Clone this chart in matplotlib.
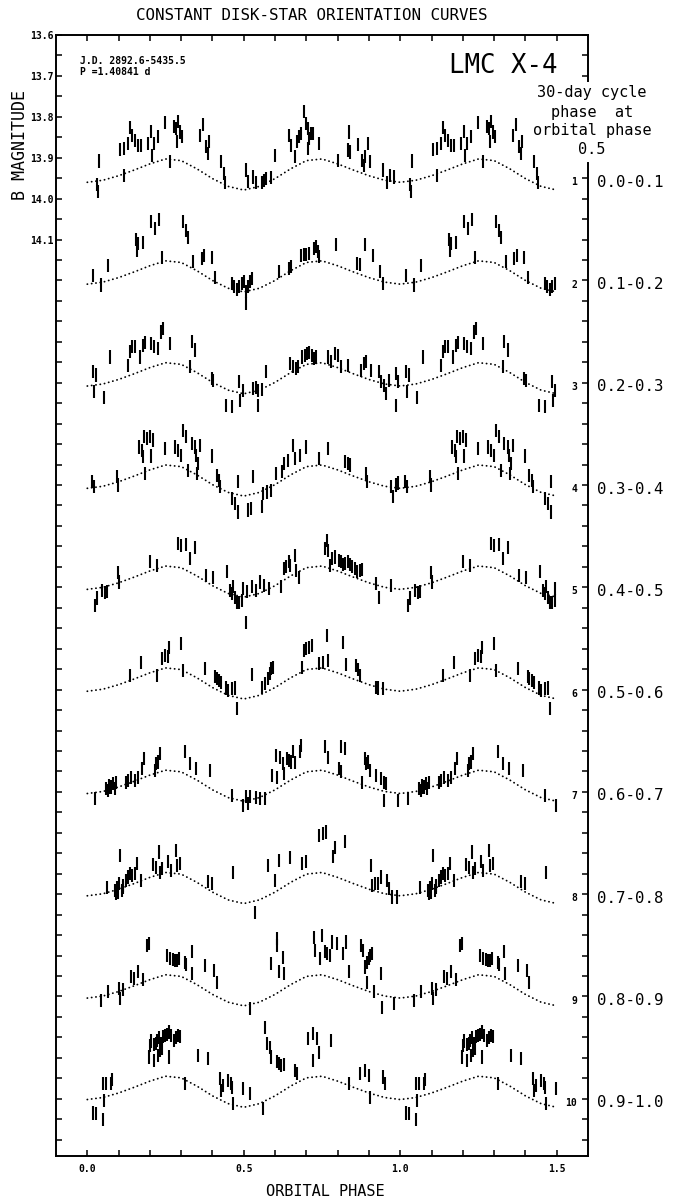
import matplotlib
matplotlib.use("Agg")
import matplotlib.pyplot as plt

# ---------------- text ----------------
title = "CONSTANT DISK-STAR ORIENTATION CURVES"
x_label = "ORBITAL PHASE"
y_label = "B MAGNITUDE"
jd_text = ["J.D. 2892.6-5435.5", "P =1.40841 d"]
object_name = "LMC X-4"
header_lines = ["30-day cycle", "phase  at", "orbital phase", "0.5"]
panel_numbers = ["1", "2", "3", "4", "5", "6", "7", "8", "9", "10"]
cycle_ranges = ["0.0-0.1", "0.1-0.2", "0.2-0.3", "0.3-0.4", "0.4-0.5",
                "0.5-0.6", "0.6-0.7", "0.7-0.8", "0.8-0.9", "0.9-1.0"]

# ---------------- axes values ----------------
x_ticks = [0.0, 0.1, 0.2, 0.3, 0.4, 0.5, 0.6, 0.7, 0.8, 0.9, 1.0, 1.1, 1.2, 1.3, 1.4, 1.5]
x_labeled = [0.0, 0.5, 1.0, 1.5]
y_labeled = [13.6, 13.7, 13.8, 13.9, 14.0, 14.1]
y_tick_step = 0.05
panel_offset = 0.25          # each panel shifted down by 0.25 mag
label_level = 13.96          # level of panel labels (true mag)
err_mag = 0.016

# model curve (dotted): phase grid and shape relative to phase 0
curve_phase = [0.00, 0.05, 0.10, 0.15, 0.20, 0.25, 0.30, 0.35, 0.40, 0.45, 0.50,
               0.55, 0.60, 0.65, 0.70, 0.75, 0.80, 0.85, 0.90, 0.95, 1.00]
curve_shape = [0.000, -0.005, -0.016, -0.030, -0.045, -0.057, -0.053, -0.033, -0.009, 0.010, 0.019,
               0.010, -0.009, -0.033, -0.053, -0.057, -0.045, -0.030, -0.016, -0.005, 0.000]
curve_level = [13.960, 13.959, 13.958, 13.958, 13.955, 13.954, 13.954, 13.954, 13.954, 13.952]

# ---------------- observations (phase, B mag) per 30-day phase bin ----------------
p1 = [(0.030, 13.965), (0.035, 13.983), (0.037, 13.908), (0.118, 13.943), (0.106, 13.880),
      (0.118, 13.877), (0.129, 13.865), (0.136, 13.826), (0.144, 13.845), (0.154, 13.857),
      (0.162, 13.869), (0.171, 13.871), (0.195, 13.865), (0.203, 13.835), (0.208, 13.894),
      (0.213, 13.865), (0.226, 13.849), (0.247, 13.814), (0.265, 13.910), (0.276, 13.824),
      (0.284, 13.829), (0.286, 13.861), (0.290, 13.812), (0.295, 13.837), (0.303, 13.849),
      (0.361, 13.845), (0.369, 13.819), (0.380, 13.873), (0.385, 13.890), (0.388, 13.861),
      (0.428, 13.910), (0.436, 13.939), (0.441, 13.961), (0.508, 13.930), (0.512, 13.959),
      (0.531, 13.947), (0.538, 13.961), (0.557, 13.961), (0.564, 13.955), (0.570, 13.951),
      (0.588, 13.949), (0.601, 13.895), (0.645, 13.845), (0.650, 13.869), (0.665, 13.898),
      (0.670, 13.861), (0.676, 13.849), (0.683, 13.841), (0.691, 13.788), (0.700, 13.816),
      (0.705, 13.829), (0.710, 13.853), (0.716, 13.841), (0.721, 13.841), (0.706, 13.877),
      (0.739, 13.865), (0.801, 13.906), (0.836, 13.837), (0.832, 13.881), (0.840, 13.886),
      (0.865, 13.868), (0.879, 13.906), (0.883, 13.918), (0.889, 13.898), (0.897, 13.865),
      (0.904, 13.910), (0.944, 13.930), (0.957, 13.961), (0.967, 13.943), (0.979, 13.947)]

p2 = [(0.017, 13.937), (0.045, 13.961), (0.066, 13.914), (0.155, 13.849), (0.162, 13.859),
      (0.159, 13.876), (0.177, 13.857), (0.205, 13.806), (0.216, 13.823), (0.230, 13.800),
      (0.240, 13.894), (0.306, 13.805), (0.315, 13.827), (0.322, 13.845), (0.338, 13.904),
      (0.365, 13.896), (0.373, 13.890), (0.397, 13.893), (0.407, 13.943), (0.461, 13.957),
      (0.468, 13.965), (0.477, 13.973), (0.485, 13.965), (0.493, 13.957), (0.500, 13.953),
      (0.506, 13.978), (0.508, 14.006), (0.514, 13.965), (0.521, 13.953), (0.527, 13.945),
      (0.613, 13.927), (0.645, 13.920), (0.652, 13.916), (0.684, 13.888), (0.691, 13.886),
      (0.700, 13.886), (0.708, 13.884), (0.724, 13.872), (0.731, 13.867), (0.737, 13.880),
      (0.742, 13.892), (0.796, 13.862), (0.862, 13.908), (0.872, 13.911), (0.889, 13.862),
      (0.912, 13.888), (0.934, 13.929), (0.945, 13.957)]

p3 = [(0.017, 13.923), (0.028, 13.931), (0.021, 13.972), (0.053, 13.985), (0.074, 13.887),
      (0.131, 13.907), (0.136, 13.874), (0.144, 13.862), (0.152, 13.861), (0.168, 13.887),
      (0.179, 13.858), (0.184, 13.852), (0.205, 13.854), (0.213, 13.861), (0.226, 13.866),
      (0.237, 13.826), (0.242, 13.817), (0.265, 13.854), (0.333, 13.850), (0.343, 13.870),
      (0.327, 13.911), (0.397, 13.940), (0.402, 13.944), (0.444, 14.005), (0.461, 14.007),
      (0.485, 13.948), (0.489, 13.993), (0.496, 13.968), (0.529, 13.964), (0.538, 13.962),
      (0.545, 13.968), (0.557, 13.967), (0.545, 14.005), (0.570, 13.923), (0.647, 13.903),
      (0.656, 13.911), (0.666, 13.915), (0.673, 13.911), (0.687, 13.887), (0.695, 13.883),
      (0.703, 13.879), (0.710, 13.877), (0.719, 13.883), (0.726, 13.891), (0.731, 13.887),
      (0.769, 13.887), (0.780, 13.899), (0.790, 13.879), (0.801, 13.883), (0.811, 13.911),
      (0.832, 13.907), (0.875, 13.919), (0.883, 13.903), (0.891, 13.899), (0.907, 13.921),
      (0.931, 13.923), (0.939, 13.948), (0.947, 13.956), (0.955, 13.976), (0.964, 13.944),
      (0.985, 13.927), (0.987, 14.005), (0.992, 13.948)]

p4 = [(0.014, 13.942), (0.021, 13.954), (0.096, 13.930), (0.099, 13.950), (0.165, 13.857),
      (0.174, 13.865), (0.181, 13.832), (0.190, 13.836), (0.200, 13.831), (0.211, 13.840),
      (0.179, 13.881), (0.205, 13.879), (0.184, 13.922), (0.247, 13.861), (0.280, 13.857),
      (0.291, 13.865), (0.301, 13.877), (0.306, 13.817), (0.315, 13.832), (0.333, 13.848),
      (0.343, 13.857), (0.348, 13.877), (0.354, 13.897), (0.361, 13.853), (0.322, 13.914),
      (0.351, 13.922), (0.400, 13.879), (0.413, 13.926), (0.421, 13.938), (0.423, 13.954),
      (0.461, 13.983), (0.472, 13.995), (0.482, 14.016), (0.482, 13.942), (0.514, 14.011),
      (0.524, 14.007), (0.529, 13.930), (0.557, 14.003), (0.562, 13.971), (0.573, 13.967),
      (0.588, 13.963), (0.604, 13.922), (0.623, 13.918), (0.630, 13.897), (0.642, 13.889),
      (0.663, 13.885), (0.679, 13.877), (0.656, 13.853), (0.700, 13.857), (0.740, 13.885),
      (0.769, 13.861), (0.825, 13.893), (0.832, 13.897), (0.838, 13.901), (0.891, 13.922),
      (0.893, 13.942), (0.971, 13.954), (0.977, 13.979), (0.985, 13.950), (0.992, 13.945)]

p5 = [(0.025, 13.994), (0.030, 13.976), (0.046, 13.957), (0.056, 13.963), (0.063, 13.961),
      (0.099, 13.913), (0.102, 13.937), (0.200, 13.888), (0.223, 13.896), (0.291, 13.843),
      (0.301, 13.847), (0.315, 13.846), (0.327, 13.880), (0.343, 13.853), (0.379, 13.922),
      (0.402, 13.927), (0.446, 13.911), (0.456, 13.957), (0.461, 13.966), (0.466, 13.949),
      (0.472, 13.974), (0.477, 13.988), (0.485, 13.986), (0.493, 13.982), (0.496, 13.953),
      (0.506, 14.035), (0.510, 13.960), (0.527, 13.949), (0.538, 13.957), (0.551, 13.937),
      (0.564, 13.945), (0.581, 13.952), (0.620, 13.949), (0.627, 13.904), (0.635, 13.900),
      (0.645, 13.888), (0.649, 13.896), (0.663, 13.872), (0.666, 13.908), (0.677, 13.925),
      (0.759, 13.856), (0.766, 13.835), (0.769, 13.860), (0.777, 13.896), (0.783, 13.880),
      (0.793, 13.876), (0.804, 13.884), (0.811, 13.888), (0.817, 13.895), (0.825, 13.892),
      (0.832, 13.888), (0.841, 13.895), (0.847, 13.900), (0.854, 13.904), (0.862, 13.911),
      (0.870, 13.908), (0.879, 13.906), (0.923, 13.941), (0.931, 13.974), (0.971, 13.945)]

p6 = [(0.136, 13.915), (0.171, 13.884), (0.223, 13.915), (0.240, 13.874), (0.247, 13.866),
      (0.259, 13.870), (0.262, 13.846), (0.301, 13.838), (0.306, 13.903), (0.376, 13.899),
      (0.407, 13.919), (0.413, 13.923), (0.421, 13.927), (0.428, 13.932), (0.444, 13.946),
      (0.450, 13.952), (0.461, 13.948), (0.472, 13.946), (0.477, 13.997), (0.527, 13.914),
      (0.557, 13.944), (0.567, 13.936), (0.578, 13.923), (0.583, 13.911), (0.588, 13.899),
      (0.594, 13.895), (0.687, 13.897), (0.691, 13.854), (0.700, 13.850), (0.708, 13.846),
      (0.719, 13.842), (0.742, 13.887), (0.752, 13.883), (0.766, 13.817), (0.769, 13.879),
      (0.817, 13.834), (0.827, 13.889), (0.858, 13.891), (0.865, 13.901), (0.870, 13.915),
      (0.923, 13.944), (0.928, 13.946), (0.946, 13.948)]

p7 = [(0.025, 13.967), (0.061, 13.942), (0.066, 13.946), (0.070, 13.934), (0.074, 13.938),
      (0.077, 13.938), (0.083, 13.930), (0.087, 13.942), (0.092, 13.926), (0.123, 13.926),
      (0.131, 13.922), (0.141, 13.914), (0.152, 13.922), (0.162, 13.914), (0.174, 13.893),
      (0.182, 13.869), (0.216, 13.897), (0.221, 13.881), (0.226, 13.877), (0.232, 13.857),
      (0.312, 13.852), (0.327, 13.881), (0.346, 13.893), (0.392, 13.897), (0.464, 13.958),
      (0.498, 13.983), (0.508, 13.961), (0.514, 13.979), (0.521, 13.962), (0.540, 13.964),
      (0.551, 13.967), (0.567, 13.967), (0.591, 13.909), (0.604, 13.861), (0.606, 13.914),
      (0.615, 13.865), (0.625, 13.881), (0.627, 13.904), (0.637, 13.869), (0.645, 13.873),
      (0.652, 13.877), (0.658, 13.852), (0.663, 13.879), (0.679, 13.852), (0.684, 13.836),
      (0.759, 13.839), (0.769, 13.865), (0.804, 13.893), (0.811, 13.901), (0.812, 13.840),
      (0.822, 13.844), (0.879, 13.926), (0.886, 13.869), (0.891, 13.881), (0.898, 13.877),
      (0.902, 13.897), (0.921, 13.909), (0.940, 13.918), (0.947, 13.926), (0.955, 13.930),
      (0.947, 13.971), (0.992, 13.971)]

p8 = [(0.063, 13.933), (0.089, 13.941), (0.092, 13.949), (0.096, 13.933), (0.099, 13.945),
      (0.102, 13.924), (0.106, 13.855), (0.110, 13.941), (0.113, 13.933), (0.115, 13.928),
      (0.123, 13.916), (0.131, 13.908), (0.136, 13.900), (0.144, 13.904), (0.152, 13.900),
      (0.160, 13.875), (0.171, 13.916), (0.211, 13.877), (0.219, 13.884), (0.230, 13.847),
      (0.232, 13.896), (0.240, 13.888), (0.259, 13.871), (0.266, 13.892), (0.285, 13.844),
      (0.287, 13.880), (0.296, 13.874), (0.386, 13.918), (0.400, 13.924), (0.466, 13.896),
      (0.535, 13.994), (0.578, 13.880), (0.599, 13.916), (0.613, 13.867), (0.649, 13.861),
      (0.687, 13.875), (0.700, 13.871), (0.742, 13.806), (0.752, 13.802), (0.763, 13.798),
      (0.785, 13.859), (0.793, 13.835), (0.822, 13.822), (0.907, 13.880), (0.910, 13.928),
      (0.918, 13.923), (0.928, 13.924), (0.939, 13.908), (0.958, 13.916), (0.965, 13.937),
      (0.974, 13.957), (0.989, 13.957)]

p9 = [(0.045, 13.960), (0.066, 13.939), (0.102, 13.931), (0.106, 13.956), (0.115, 13.934),
      (0.141, 13.901), (0.149, 13.907), (0.162, 13.890), (0.177, 13.909), (0.190, 13.825),
      (0.198, 13.821), (0.256, 13.850), (0.264, 13.858), (0.273, 13.860), (0.280, 13.863),
      (0.287, 13.862), (0.294, 13.858), (0.312, 13.866), (0.317, 13.872), (0.333, 13.841),
      (0.336, 13.894), (0.376, 13.874), (0.404, 13.886), (0.413, 13.915), (0.521, 13.980),
      (0.588, 13.870), (0.606, 13.809), (0.606, 13.825), (0.625, 13.854), (0.613, 13.890),
      (0.627, 13.894), (0.726, 13.805), (0.729, 13.837), (0.744, 13.858), (0.750, 13.801),
      (0.759, 13.841), (0.766, 13.845), (0.775, 13.850), (0.783, 13.817), (0.798, 13.821),
      (0.817, 13.845), (0.827, 13.817), (0.836, 13.890), (0.875, 13.825), (0.881, 13.837),
      (0.886, 13.878), (0.893, 13.866), (0.900, 13.858), (0.904, 13.850), (0.910, 13.845),
      (0.893, 13.915), (0.915, 13.939), (0.939, 13.894), (0.943, 13.976), (0.979, 13.968)]

p10 = [(0.019, 13.985), (0.028, 13.987), (0.051, 14.001), (0.053, 13.954), (0.051, 13.912),
       (0.059, 13.913), (0.077, 13.913), (0.080, 13.904), (0.200, 13.820), (0.205, 13.809),
       (0.213, 13.817), (0.219, 13.814), (0.223, 13.807), (0.230, 13.801), (0.237, 13.816),
       (0.242, 13.799), (0.247, 13.795), (0.256, 13.793), (0.262, 13.787), (0.268, 13.795),
       (0.277, 13.807), (0.283, 13.801), (0.291, 13.795), (0.296, 13.798), (0.198, 13.848),
       (0.213, 13.856), (0.226, 13.844), (0.232, 13.832), (0.240, 13.828), (0.262, 13.848),
       (0.312, 13.912), (0.355, 13.844), (0.386, 13.852), (0.423, 13.901), (0.428, 13.930),
       (0.434, 13.917), (0.450, 13.905), (0.458, 13.913), (0.464, 13.922), (0.466, 13.962),
       (0.498, 13.926), (0.521, 13.938), (0.560, 13.974), (0.567, 13.775), (0.575, 13.816),
       (0.583, 13.824), (0.588, 13.848), (0.606, 13.860), (0.613, 13.864), (0.620, 13.869),
       (0.627, 13.866), (0.663, 13.881), (0.670, 13.889), (0.705, 13.803), (0.721, 13.791),
       (0.734, 13.803), (0.740, 13.836), (0.721, 13.856), (0.780, 13.807), (0.836, 13.913),
       (0.870, 13.889), (0.886, 13.882), (0.900, 13.893), (0.904, 13.946), (0.944, 13.897),
       (0.952, 13.913)]

panels = [p1, p2, p3, p4, p5, p6, p7, p8, p9, p10]

# ---------------- figure ----------------
W, H = 675, 1201
fig = plt.figure(figsize=(W / 100, H / 100), dpi=100)
ax_left, ax_right, ax_top, ax_bottom = 56, 588, 35, 1156
ax = fig.add_axes([ax_left / W, 1 - ax_bottom / H, (ax_right - ax_left) / W, (ax_bottom - ax_top) / H])
x_min, x_max = -0.1, 1.6
y_top, y_bottom = 13.6, 16.34
ax.set_xlim(x_min, x_max)
ax.set_ylim(y_bottom, y_top)

mono = "DejaVu Sans Mono"
lw_spine = 1.4

for k, pts in enumerate(panels):
    shift = k * panel_offset
    # dotted model curve (phase 0 - 1.5)
    cph = list(curve_phase) + [p + 1 for p in curve_phase[1:] if p <= 0.5]
    csh = list(curve_shape) + [s for p, s in zip(curve_phase[1:], curve_shape[1:]) if p <= 0.5]
    cmag = [curve_level[k] + s + shift for s in csh]
    ax.plot(cph, cmag, color="black", lw=1.3, ls=(0, (0.1, 2.3)),
            dash_capstyle="round", solid_capstyle="round")
    # observations, phases < 0.5 repeated after 1.0
    ph = [p for p, m in pts] + [p + 1 for p, m in pts if p < 0.5]
    mg = [m + shift for p, m in pts] + [m + shift for p, m in pts if p < 0.5]
    ax.errorbar(ph, mg, yerr=err_mag, fmt="none", ecolor="black", elinewidth=1.5, capsize=0)
    # labels
    ax.text(1.566, label_level + shift, panel_numbers[k], ha="right", va="center",
            family=mono, fontweight="bold", fontsize=7)
    ax.text(1.628, label_level + shift, cycle_ranges[k], ha="left", va="center",
            family=mono, fontsize=11.3, clip_on=False)

# ticks
ax.set_xticks(x_ticks)
ax.set_xticklabels([f"{t:.1f}" if any(abs(t - v) < 1e-9 for v in x_labeled) else "" for t in x_ticks])
n_y = int(round((16.30 - y_top) / y_tick_step)) + 1
y_ticks = [round(y_top + i * y_tick_step, 2) for i in range(n_y)]
ax.set_yticks(y_ticks)
ax.set_yticklabels([f"{t:.1f}" if any(abs(t - v) < 1e-9 for v in y_labeled) else "" for t in y_ticks])
ax.tick_params(axis="x", direction="in", top=True, bottom=True, length=4, width=1.1, pad=6)
ax.tick_params(axis="y", direction="in", left=True, right=False, length=4.5, width=1.1, pad=2)
for lab in ax.get_xticklabels() + ax.get_yticklabels():
    lab.set_fontfamily(mono)
    lab.set_fontweight("bold")
    lab.set_fontsize(7)

for s in ["left", "top", "bottom"]:
    ax.spines[s].set_linewidth(lw_spine)
ax.spines["right"].set_visible(False)

# right axis: broken near the header text
gap_top, gap_bottom = 13.712, 13.913
frac = lambda m: (y_bottom - m) / (y_bottom - y_top)
ax.axvline(x_max, ymin=frac(gap_top), ymax=1, color="black", lw=lw_spine, clip_on=False)
ax.axvline(x_max, ymin=0, ymax=frac(gap_bottom), color="black", lw=lw_spine, clip_on=False)
ax2 = ax.twinx()
ax2.set_ylim(y_bottom, y_top)
ax2.set_yticks([t for t in y_ticks if not (gap_top < t < gap_bottom + 0.03)])
ax2.tick_params(axis="y", direction="in", length=4.5, width=1.1, labelright=False)
for s in ax2.spines.values():
    s.set_visible(False)

# texts
fig.text(312 / W, 1 - 16 / H, title, ha="center", va="center", family=mono, fontsize=11.4)
fig.text(80 / W, 1 - 61 / H, jd_text[0], ha="left", va="center", family=mono, fontweight="bold", fontsize=7)
fig.text(80 / W, 1 - 72 / H, jd_text[1], ha="left", va="center", family=mono, fontweight="bold", fontsize=7)
fig.text(503 / W, 1 - 66 / H, object_name, ha="center", va="center", family=mono, fontsize=18.5)
for line, yy in zip(header_lines, [92, 112, 131, 150]):
    fig.text(592 / W, 1 - yy / H, line, ha="center", va="center", family=mono, fontsize=11)
fig.text(20 / W, 1 - 145 / H, y_label, rotation=90, ha="center", va="center", family=mono, fontsize=12)
fig.text(325 / W, 1 - 1192 / H, x_label, ha="center", va="center", family=mono, fontsize=11)

fig.savefig("out.png", dpi=100)
